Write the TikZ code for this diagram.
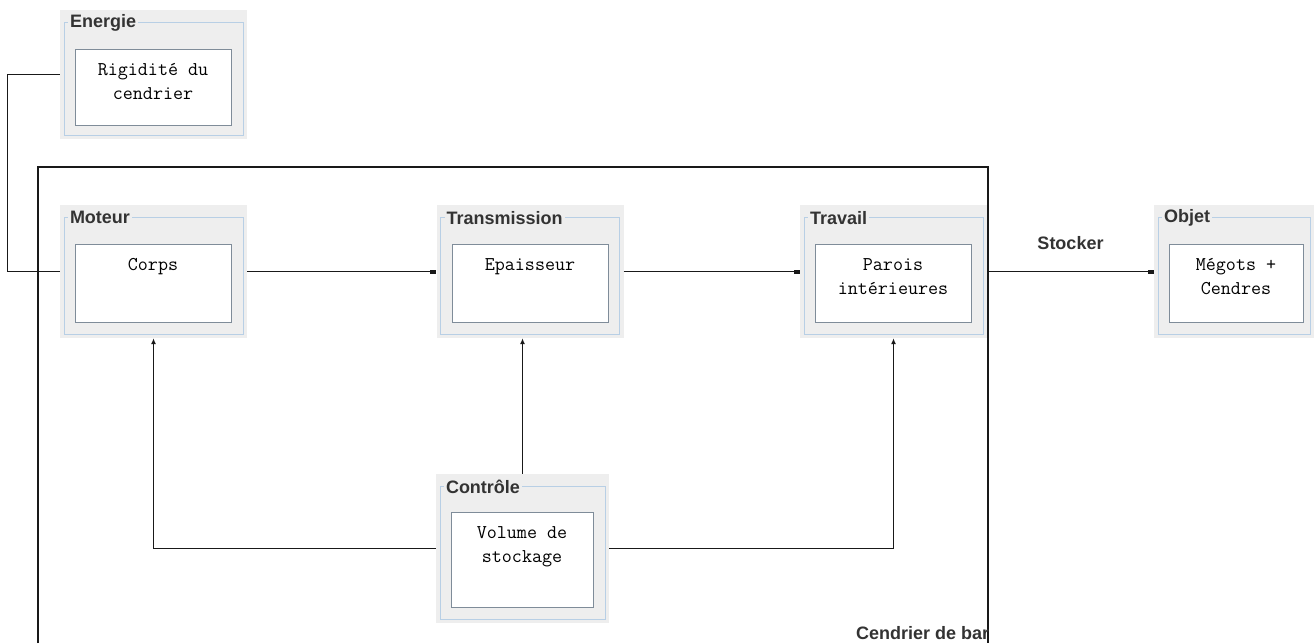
\documentclass[tikz,border=0pt]{standalone}
\usepackage{fontspec}
\setmainfont{Liberation Sans}
\usetikzlibrary{arrows.meta}

\definecolor{panelgray}{HTML}{EEEEEE}
\definecolor{fieldblue}{HTML}{B8CFE5}
\definecolor{boxedge}{HTML}{7F8C99}
\definecolor{titlegray}{HTML}{333333}

\tikzset{>=latex,
         x=1pt, y=-1pt,
         flow/.style={line width=1.2pt, black!90},
         tip/.style={-{Rectangle[length=6pt, width=4pt]}},
         up/.style={-{Latex[length=6pt, width=5pt]}},
         titletext/.style={font=\bfseries\fontsize{18}{20}\selectfont, text=titlegray},
         title/.style={titletext, anchor=west, fill=panelgray, inner xsep=2pt, inner ysep=0pt,
                       xshift=8pt, yshift=-13pt},
         panel/.style={fill=panelgray, inner sep=0, minimum width=187, minimum height=133,
                       path picture={\draw[fieldblue, line width=1pt]
                           ([shift={(4,12)}]path picture bounding box.north west) rectangle
                           ([shift={(-4,-4)}]path picture bounding box.south east);},
                       label={[title]north west:#1}},
         boxtext/.style={font=\ttfamily\fontsize{19.5}{24}\selectfont, align=center,
                         anchor=north, inner sep=0pt, yshift=-15pt},
         box/.style={draw=boxedge, line width=1pt, fill=white, inner sep=0,
                     minimum width=156, minimum height=78,
                     label={[boxtext]north:#1}}}

\begin{document}
\begin{tikzpicture}
        \useasboundingbox (0,0) rectangle (1314,643);

        % system boundary
        \draw[flow] (38,643) |- (988,167) -- (988,643);
        \begin{scope}
            \clip (0,0) rectangle (988,643);
            \node[titletext, anchor=west, inner sep=0] (boundary) at (856,633) {Cendrier de bar};
        \end{scope}

        \node[panel=Energie, minimum height=129]  at ( 153.5,  74.5) (energie)      {};
        \node[panel=Moteur]                       at ( 153.5, 271.5) (moteur)       {};
        \node[panel=Transmission]                 at ( 530.0, 271.5) (transmission) {};
        \node[panel=Travail]                      at ( 893.5, 271.5) (travail)      {};
        \node[panel=Objet, minimum width=160]     at (1234.0, 271.5) (objet)        {};
        \node[panel=Contrôle, minimum width=173, minimum height=149]
                                                  at ( 522.5, 548.5) (controle)     {};

        \node[box={Rigidité du\\cendrier}, minimum height=76] at ( 153,  87) (rigidite) {};
        \node[box=Corps]                          at ( 153, 283) (corps)    {};
        \node[box=Epaisseur]                      at ( 530, 283) (epaisseur) {};
        \node[box={Parois\\intérieures}]          at ( 893, 283) (parois)   {};
        \node[box={Mégots +\\Cendres}, minimum width=134] at (1236, 283) (megots) {};
        \node[box={Volume de\\stockage}, minimum width=142, minimum height=95]
                                                  at ( 522, 559.5) (volume) {};

        \draw[flow] (energie.west) -- ++(-52,0) |- (moteur.west);

        \draw[flow, tip] (moteur.east)       -- (transmission.west);
        \draw[flow, tip] (transmission.east) -- (travail.west);
        \draw[flow, tip] (travail.east)      -- node[titletext, midway, above=21pt, inner sep=0] (stocker) {Stocker} (objet.west);

        \draw[flow, up] (controle.west)  -| (moteur.south);
        \draw[flow, up] (controle.north) -- (controle.north |- transmission.south);
        \draw[flow, up] (controle.east)  -| (travail.south);
\end{tikzpicture}
\end{document}
